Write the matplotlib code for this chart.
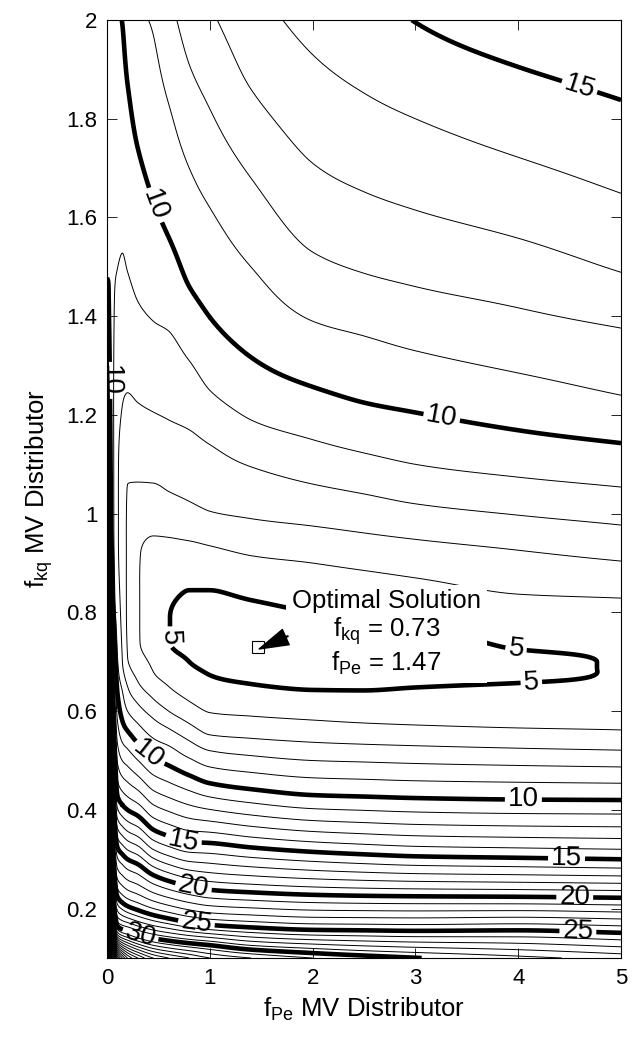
import numpy as np
import matplotlib
matplotlib.use('Agg')
import matplotlib.pyplot as plt
from matplotlib.ticker import FormatStrFormatter

plt.rcParams['font.family'] = ['Liberation Sans', 'DejaVu Sans']
plt.rcParams['mathtext.fontset'] = 'custom'
plt.rcParams['mathtext.rm'] = 'Liberation Sans'
plt.rcParams['mathtext.it'] = 'Liberation Sans:italic'

nan = np.nan

x_cols = [0.0, 0.015, 0.04, 0.07, 0.1, 0.15, 0.2, 0.3, 0.45, 0.6,
          0.8, 1.0, 1.4, 2.0, 2.5, 3.0, 4.0, 5.0]

# error at the bottom (f_kq = 0.1) and the top (f_kq = 2) of each column
f_bottom = [80, 65, 55, 50, 45, 42, 40, 38, 36, 35,
            34, 33, 32, 31, 30.5, 30.05, 29.3, 28.6]
f_top = [9.85, 9.9, 9.75, 9.6, 9.9, 10.02, 10.4, 10.85, 11.08, 11.7,
         12.4, 12.85, 13.6, 14.3, 14.7, 15.02, 15.5, 15.8]

# valley floor of each column
valley_lo = [1.7, 1.7, 1.3, 1.0, 0.95, 0.9, 0.8, 0.74, 0.78, 0.74,
             0.76, 0.75, 0.73, 0.71, 0.70, 0.69, 0.68, 0.67]
valley_hi = [1.8, 1.8, 1.5, 1.2, 1.1, 1.05, 0.95, 0.92, 0.86, 0.79,
             0.79, 0.78, 0.76, 0.75, 0.74, 0.73, 0.70, 0.70]
f_valley = [9.75, 9.8, 9.45, 8.9, 8.15, 7.6, 6.85, 6.1, 5.45, 5.02,
            4.8, 4.65, 4.5, 4.45, 4.45, 4.5, 4.65, 5.12]

# f_kq where each level crosses a column, below the valley
low30 = [0.95, 0.45, 0.30, 0.20, 0.165, 0.158, 0.155, 0.148, 0.14, 0.135,
         0.13, 0.126, 0.117, 0.11, 0.105, nan, nan, nan]
low25 = [1.05, 0.58, 0.42, 0.28, 0.225, 0.212, 0.205, 0.197, 0.187, 0.18,
         0.172, 0.167, 0.162, 0.157, 0.156, 0.155, 0.156, 0.151]
low20 = [1.15, 0.75, 0.56, 0.40, 0.325, 0.31, 0.30, 0.29, 0.268, 0.256,
         0.245, 0.238, 0.233, 0.228, 0.226, 0.225, 0.224, 0.222]
low15 = [1.30, 0.98, 0.75, 0.55, 0.43, 0.41, 0.40, 0.388, 0.36, 0.347,
         0.335, 0.333, 0.324, 0.315, 0.31, 0.306, 0.303, 0.300]
low10 = [1.478, 1.46, 0.98, 0.76, 0.64, 0.58, 0.56, 0.535, 0.505, 0.49,
         0.47, 0.454, 0.442, 0.43, 0.427, 0.424, 0.421, 0.420]
low9 = [nan, nan, nan, 0.85, 0.72, 0.64, 0.60, 0.575, 0.545, 0.53,
        0.505, 0.487, 0.476, 0.465, 0.462, 0.459, 0.456, 0.454]
low8 = [nan, nan, nan, nan, nan, 0.70, 0.65, 0.615, 0.585, 0.565,
        0.54, 0.52, 0.51, 0.50, 0.497, 0.494, 0.49, 0.487]
low7 = [nan, nan, nan, nan, nan, nan, 0.71, 0.66, 0.625, 0.60,
        0.575, 0.552, 0.545, 0.537, 0.533, 0.53, 0.525, 0.521]
low6 = [nan, nan, nan, nan, nan, nan, nan, nan, 0.68, 0.65,
        0.62, 0.597, 0.59, 0.582, 0.576, 0.572, 0.566, 0.562]
low5 = [nan, nan, nan, nan, nan, nan, nan, nan, nan, nan,
        0.70, 0.673, 0.655, 0.643, 0.642, 0.648, 0.657, nan]

# ... and above the valley
up5 = [nan, nan, nan, nan, nan, nan, nan, nan, nan, nan,
       0.845, 0.845, 0.825, 0.80, 0.79, 0.77, 0.725, nan]
up6 = [nan, nan, nan, nan, nan, nan, nan, nan, 0.955, 0.952,
       0.945, 0.935, 0.915, 0.90, 0.885, 0.87, 0.837, 0.829]
up7 = [nan, nan, nan, nan, nan, nan, 1.06, 1.064, 1.062, 1.045,
       1.025, 1.005, 0.99, 0.975, 0.961, 0.948, 0.926, 0.904]
up8 = [nan, nan, nan, nan, nan, 1.22, 1.245, 1.225, 1.206, 1.19,
       1.17, 1.14, 1.095, 1.06, 1.04, 1.02, 0.997, 0.977]
up9 = [nan, nan, nan, 1.41, 1.495, 1.528, 1.49, 1.43, 1.39, 1.37,
       1.31, 1.25, 1.19, 1.15, 1.123, 1.10, 1.074, 1.054]
up10 = [nan, nan, nan, nan, nan, 1.99, 1.87, 1.74, 1.635, 1.56,
        1.46, 1.398, 1.317, 1.257, 1.225, 1.205, 1.169, 1.143]
up11 = [nan, nan, nan, nan, nan, nan, nan, nan, 1.97, 1.83,
        1.70, 1.62, 1.50, 1.39, 1.36, 1.33, 1.285, 1.24]
up12 = [nan, nan, nan, nan, nan, nan, nan, nan, nan, nan,
        1.91, 1.82, 1.68, 1.53, 1.487, 1.46, 1.417, 1.376]
up13 = [nan, nan, nan, nan, nan, nan, nan, nan, nan, nan,
        nan, nan, 1.86, 1.71, 1.652, 1.615, 1.558, 1.489]
up14 = [nan, nan, nan, nan, nan, nan, nan, nan, nan, nan,
        nan, nan, nan, 1.93, 1.852, 1.80, 1.722, 1.649]
up15 = [nan, nan, nan, nan, nan, nan, nan, nan, nan, nan,
        nan, nan, nan, nan, nan, 1.995, 1.905, 1.838]

lower_levels = [30, 25, 20, 15, 10, 9, 8, 7, 6, 5]
lower_table = np.array([low30, low25, low20, low15, low10, low9, low8, low7, low6, low5])
upper_levels = [5, 6, 7, 8, 9, 10, 11, 12, 13, 14, 15]
upper_table = np.array([up5, up6, up7, up8, up9, up10, up11, up12, up13, up14, up15])

opt_fpe = 1.47
opt_fkq = 0.73

# thick labelled contours and where their labels sit
label_spots = [(0.47, 1.625), (3.26, 1.20), (4.58, 1.854), (0.02, 1.27),
               (0.60, 0.75), (3.98, 0.728), (4.13, 0.647),
               (0.386, 0.508), (4.05, 0.416), (0.74, 0.335), (4.47, 0.298),
               (0.84, 0.242), (4.55, 0.224), (0.87, 0.171), (4.58, 0.151),
               (0.32, 0.143)]


def pchip(xk, fk, xq):
    # monotone cubic through the read values (fk may hold several columns)
    xk = np.asarray(xk, float)
    fk = np.asarray(fk, float)
    if fk.ndim == 1:
        fk = fk[:, None]
    h = np.diff(xk)[:, None]
    d = np.diff(fk, axis=0) / h
    m = np.zeros_like(fk)
    w1 = 2 * h[1:] + h[:-1]
    w2 = h[1:] + 2 * h[:-1]
    same = d[:-1] * d[1:] > 0
    with np.errstate(divide='ignore', invalid='ignore'):
        mid = (w1 + w2) / (w1 / d[:-1] + w2 / d[1:])
    m[1:-1] = np.where(same, mid, 0.0)
    m[0] = d[0]
    m[-1] = d[-1]
    i = np.clip(np.searchsorted(xk, xq) - 1, 0, len(xk) - 2)
    hh = h[i]
    t = ((xq - xk[i]) / hh[:, 0])[:, None]
    h00 = 2 * t**3 - 3 * t**2 + 1
    h10 = t**3 - 2 * t**2 + t
    h01 = -2 * t**3 + 3 * t**2
    h11 = t**3 - t**2
    return h00 * fk[i] + h10 * hh * m[i] + h01 * fk[i + 1] + h11 * hh * m[i + 1]


# build the error surface column by column
yf = np.linspace(0.1, 2.0, 951)
xf = np.linspace(0.0, 5.0, 1001)
cols = []
for i in range(len(x_cols)):
    ys = [0.1]
    fs = [f_bottom[i]]
    for k, lev in enumerate(lower_levels):
        if not np.isnan(lower_table[k, i]):
            ys.append(lower_table[k, i])
            fs.append(lev)
    ys += [valley_lo[i], valley_hi[i]]
    fs += [f_valley[i], f_valley[i]]
    for k, lev in enumerate(upper_levels):
        if not np.isnan(upper_table[k, i]):
            ys.append(upper_table[k, i])
            fs.append(lev)
    ys.append(2.0)
    fs.append(f_top[i])
    cols.append(pchip(ys, fs, yf)[:, 0])
cols = np.array(cols)
Z = pchip(x_cols, cols, xf).T
X, Y = np.meshgrid(xf, yf)

fig = plt.figure(figsize=(6.32, 10.43), dpi=100)
ax = fig.add_axes([0.1693, 0.0815, 0.8133, 0.8993])

thin_levels = [l for l in range(1, 80) if l % 5 != 0 or l > 30]
thick_levels = [5, 10, 15, 20, 25, 30]
ax.contour(X, Y, Z, levels=thin_levels, colors='k', linewidths=0.7)
cs = ax.contour(X, Y, Z, levels=thick_levels, colors='k', linewidths=3.3)
ax.clabel(cs, fmt='%d', fontsize=20, inline=True, inline_spacing=3,
          manual=label_spots)

ax.plot(opt_fpe, opt_fkq, 's', mfc='white', mec='k', ms=9, mew=0.8, zorder=5)
ax.annotate('', xy=(opt_fpe + 0.01, opt_fkq - 0.004), xytext=(1.76, 0.752),
            arrowprops=dict(facecolor='k', edgecolor='k', width=0.6,
                            headwidth=12, headlength=21, shrink=0), zorder=6)
ax.text(2.72, 0.758, 'Optimal Solution\n$\\mathregular{f_{kq}}$ = 0.73\n$\\mathregular{f_{Pe}}$ = 1.47',
        ha='center', va='center', fontsize=18.5, linespacing=1.12,
        bbox=dict(facecolor='white', edgecolor='none', pad=4), zorder=4)

ax.set_xlim(0, 5)
ax.set_ylim(0.1, 2)
ax.set_xticks([0, 1, 2, 3, 4, 5])
ax.set_yticks([0.2, 0.4, 0.6, 0.8, 1.0, 1.2, 1.4, 1.6, 1.8, 2.0])
ax.yaxis.set_major_formatter(FormatStrFormatter('%g'))
ax.tick_params(direction='in', top=True, right=True, length=7, width=0.6,
               labelsize=16, pad=7)
for sp in ax.spines.values():
    sp.set_linewidth(0.8)

ax.set_xlabel('$\\mathregular{f_{Pe}}$ MV Distributor', fontsize=18.5, labelpad=5)
ax.set_ylabel('$\\mathregular{f_{kq}}$ MV Distributor', fontsize=18.5, labelpad=8)

fig.savefig('out.png', dpi=100)
